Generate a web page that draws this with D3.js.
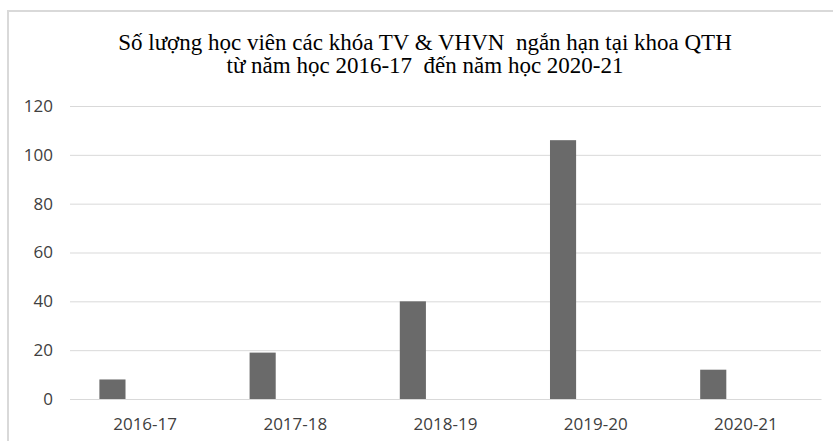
<!DOCTYPE html>
<html>
<head>
<meta charset="utf-8">
<script src="https://cdn.jsdelivr.net/npm/d3@7"></script>
<style>
    body { margin: 0; background: #fff; }
    svg { display: block; }
</style>
</head>
<body>
<svg id="chart" width="833" height="441"></svg>
<script>
    var titleLines = [
        "Số lượng học viên các khóa TV & VHVN\u00a0 ngắn hạn tại khoa QTH",
        "từ năm học 2016-17\u00a0 đến năm học 2020-21"
    ]
    var categories = ["2016-17", "2017-18", "2018-19", "2019-20", "2020-21"]
    var students = [8, 19, 40, 106, 12]
    // excel chart had a second (empty) series, so the bar sits left of centre
    var seriesNames = ["Học viên", ""]
    var yTicks = [0, 20, 40, 60, 80, 100, 120]

    var svg = d3.select("#chart")

    var plotLeft = 70, plotRight = 821, plotTop = 106, plotBottom = 399

    // outer border of chart area (cropped on right/bottom)
    svg.append("path")
        .attr("d", "M8,441V11H833")
        .attr("fill", "none")
        .attr("stroke", "#d9d9d9")
        .attr("stroke-width", 2)

    svg.append("text")
        .attr("x", 425)
        .attr("y", 50)
        .attr("text-anchor", "middle")
        .attr("font-family", "'Liberation Serif', 'Times New Roman', serif")
        .attr("font-size", 23)
        .attr("fill", "#000")
        .selectAll("tspan")
        .data(titleLines).enter()
        .append("tspan")
        .attr("x", 425)
        .attr("dy", function(d, i) { return i ? 23 : 0 })
        .text(function(d) { return d })

    var x = d3.scaleBand().domain(categories).range([plotLeft, plotRight])
    var xSub = d3.scaleBand().domain(seriesNames)
        .range([0, x.bandwidth()])
        .paddingInner(0.6)
        .paddingOuter(0.45)
    var y = d3.scaleLinear().domain([0, 120]).range([plotBottom, plotTop])

    var yAxis = d3.axisLeft(y).tickValues(yTicks).tickSize(-(plotRight - plotLeft)).tickPadding(17)
    var gy = svg.append("g")
        .attr("transform", "translate(" + plotLeft + ",0)")
        .call(yAxis)
    gy.select(".domain").remove()
    gy.selectAll(".tick line").attr("stroke", "#d9d9d9")
    gy.selectAll(".tick text")
        .attr("fill", "#404040")
        .attr("font-family", "'Open Sans', sans-serif")
        .attr("font-size", 17)

    svg.selectAll(".bar")
        .data(students).enter()
        .append("rect")
        .attr("class", "bar")
        .attr("x", function(d, i) { return x(categories[i]) + xSub(seriesNames[0]) })
        .attr("width", xSub.bandwidth())
        .attr("y", function(d) { return y(d) })
        .attr("height", function(d) { return y(0) - y(d) })
        .attr("fill", "#6a6a6a")

    var xAxis = d3.axisBottom(x).tickSize(0).tickPadding(19)
    var gx = svg.append("g")
        .attr("transform", "translate(0," + plotBottom + ")")
        .call(xAxis)
    gx.select(".domain").attr("stroke", "#d9d9d9")
    gx.selectAll(".tick text")
        .attr("fill", "#404040")
        .attr("font-family", "'Open Sans', sans-serif")
        .attr("font-size", 17)
</script>
</body>
</html>
